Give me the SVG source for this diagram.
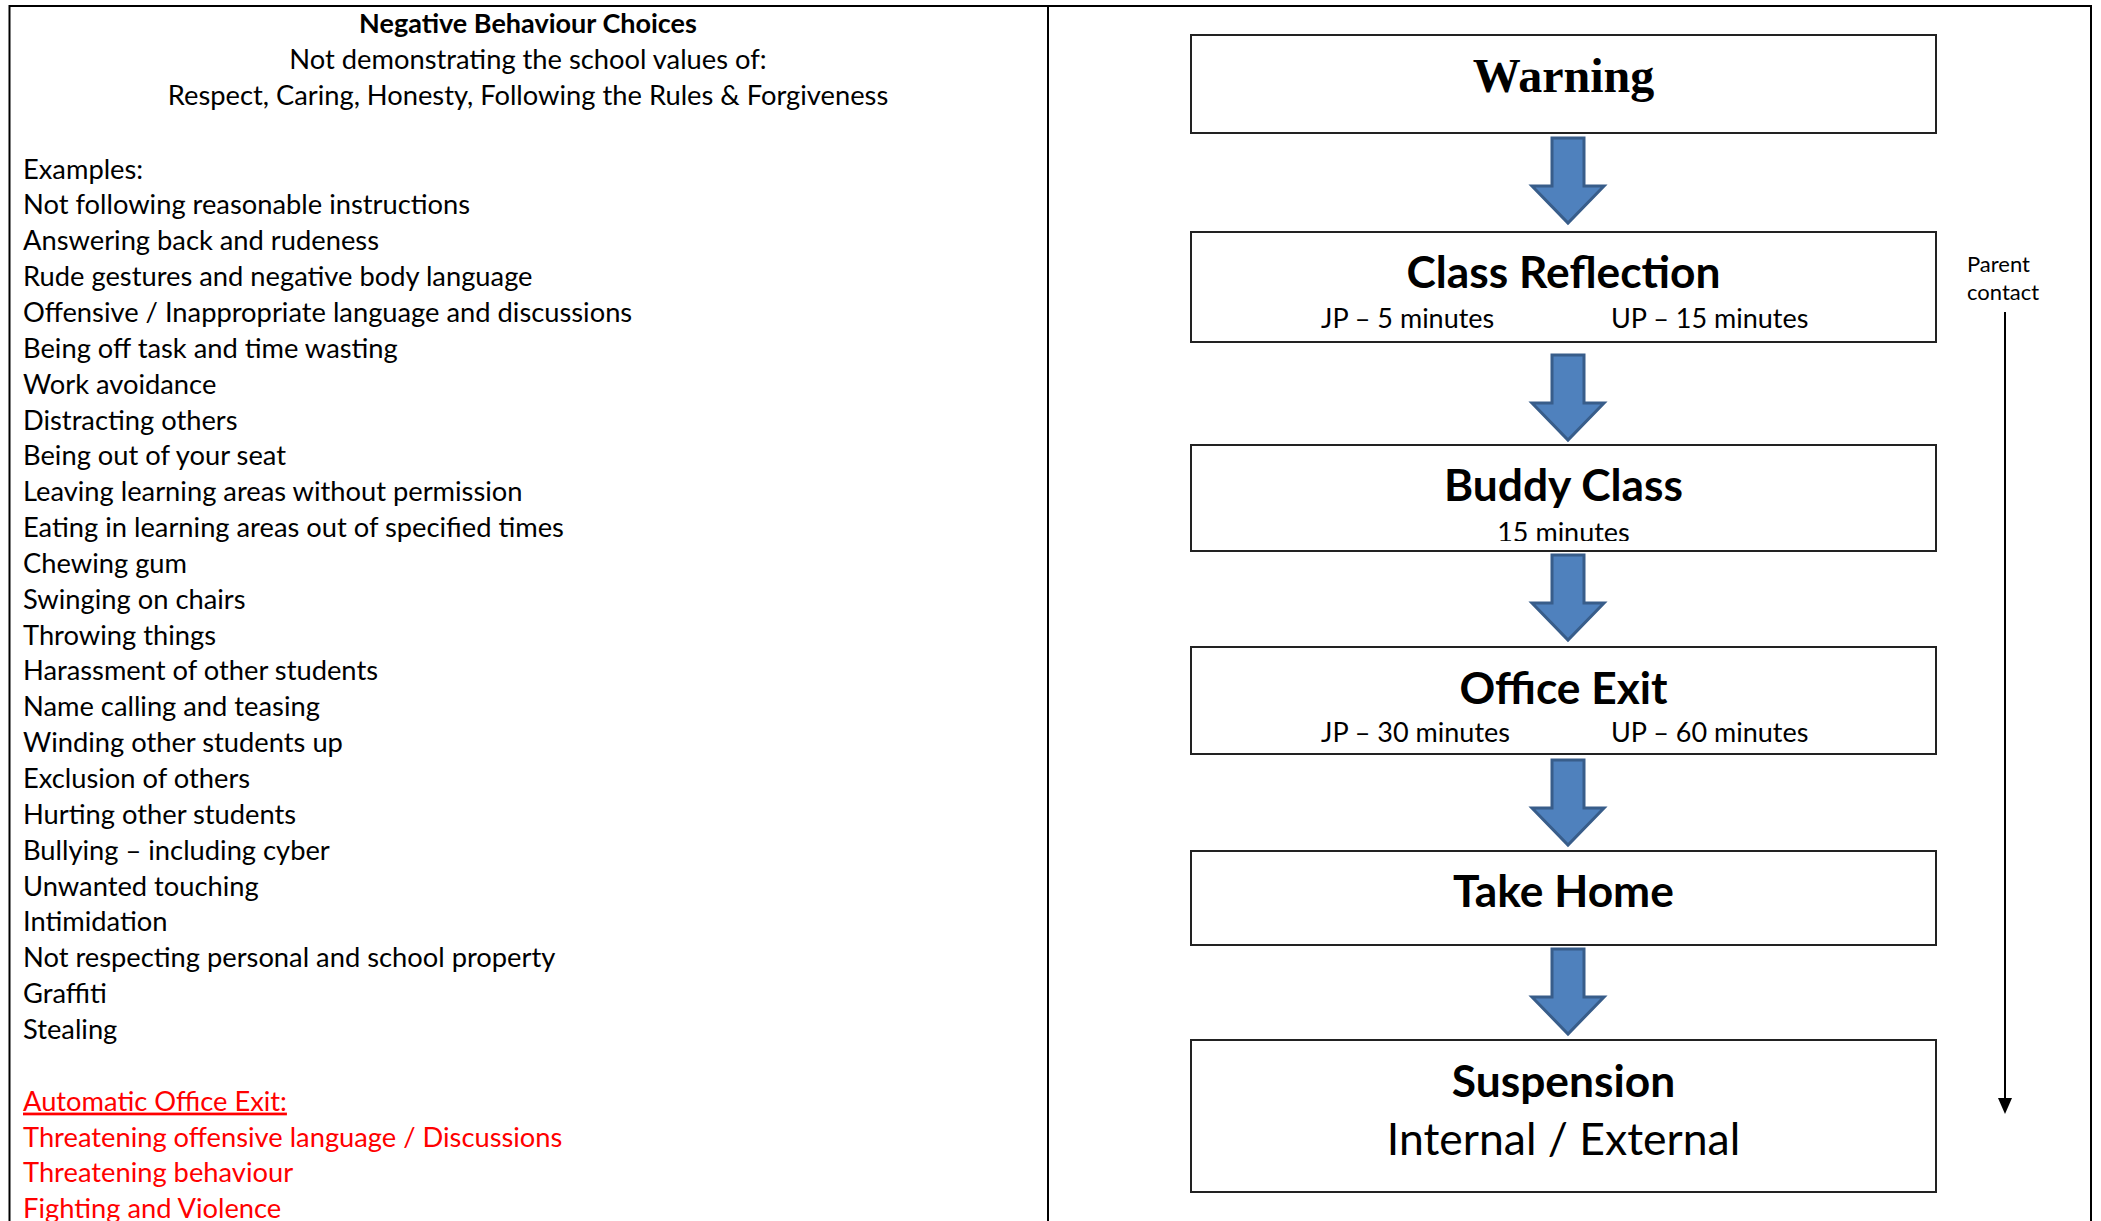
<svg xmlns="http://www.w3.org/2000/svg" width="2101" height="1221" viewBox="0 0 2101 1221">
<style>
.t{font-family:Lato,"Open Sans","Liberation Sans",sans-serif;font-size:27.3px;fill:#000}
.tb{font-family:Lato,"Open Sans","Liberation Sans",sans-serif;font-size:27px;font-weight:700;fill:#000}
.red{fill:#FF0000}
.hd{font-family:Lato,"Open Sans","Liberation Sans",sans-serif;font-size:44.3px;font-weight:700;fill:#000;text-anchor:middle}
.sub{font-family:Lato,"Open Sans","Liberation Sans",sans-serif;font-size:27px;fill:#000}
.box{fill:#fff;stroke:#222;stroke-width:2}
.frame{stroke:#000;stroke-width:2;fill:none}
.blk{fill:#4F81BD;stroke:#385D8A;stroke-width:3}
</style>
<defs>
<path id="barrow" d="M-16,0 H16 V48 H36 L0,85 L-36,48 H-16 Z"/>
<clipPath id="clipBuddy"><rect x="1191" y="445" width="745" height="96"/></clipPath>
</defs>
<rect width="2101" height="1221" fill="#fff"/>
<g id="frame">
<line class="frame" x1="9" y1="6" x2="2092" y2="6"/>
<line class="frame" x1="9.5" y1="5" x2="9.5" y2="1221"/>
<line class="frame" x1="1048" y1="5" x2="1048" y2="1221"/>
<line class="frame" x1="2091" y1="5" x2="2091" y2="1221"/>
</g>
<g id="left-panel">
<text class="tb" x="528" y="33" text-anchor="middle">Negative Behaviour Choices</text>
<text class="t" x="528" y="69" text-anchor="middle">Not demonstrating the school values of:</text>
<text class="t" x="528" y="105" text-anchor="middle">Respect, Caring, Honesty, Following the Rules &amp; Forgiveness</text>
<text class="t" x="23" y="178.5">Examples:</text>
<text class="t" x="23" y="214.4">Not following reasonable instructions</text>
<text class="t" x="23" y="250.2">Answering back and rudeness</text>
<text class="t" x="23" y="286.1">Rude gestures and negative body language</text>
<text class="t" x="23" y="321.9">Offensive / Inappropriate language and discussions</text>
<text class="t" x="23" y="357.8">Being off task and time wasting</text>
<text class="t" x="23" y="393.6">Work avoidance</text>
<text class="t" x="23" y="429.5">Distracting others</text>
<text class="t" x="23" y="465.3">Being out of your seat</text>
<text class="t" x="23" y="501.2">Leaving learning areas without permission</text>
<text class="t" x="23" y="537">Eating in learning areas out of specified times</text>
<text class="t" x="23" y="572.9">Chewing gum</text>
<text class="t" x="23" y="608.7">Swinging on chairs</text>
<text class="t" x="23" y="644.6">Throwing things</text>
<text class="t" x="23" y="680.4">Harassment of other students</text>
<text class="t" x="23" y="716.3">Name calling and teasing</text>
<text class="t" x="23" y="752.1">Winding other students up</text>
<text class="t" x="23" y="788">Exclusion of others</text>
<text class="t" x="23" y="823.8">Hurting other students</text>
<text class="t" x="23" y="859.7">Bullying – including cyber</text>
<text class="t" x="23" y="895.5">Unwanted touching</text>
<text class="t" x="23" y="931.4">Intimidation</text>
<text class="t" x="23" y="967.2">Not respecting personal and school property</text>
<text class="t" x="23" y="1003.1">Graffiti</text>
<text class="t" x="23" y="1038.9">Stealing</text>
<text class="t red" x="23" y="1110.6" text-decoration="underline">Automatic Office Exit:</text>
<text class="t red" x="23" y="1146.5">Threatening offensive language / Discussions</text>
<text class="t red" x="23" y="1182.3">Threatening behaviour</text>
<text class="t red" x="23" y="1218.2">Fighting and Violence</text>
</g>
<g id="connectors">
<use href="#barrow" class="blk" transform="translate(1568,138)"/>
<use href="#barrow" class="blk" transform="translate(1568,355)"/>
<use href="#barrow" class="blk" transform="translate(1568,555)"/>
<use href="#barrow" class="blk" transform="translate(1568,760)"/>
<use href="#barrow" class="blk" transform="translate(1568,949)"/>
<line x1="2005" y1="312" x2="2005" y2="1100" stroke="#000" stroke-width="2"/>
<path d="M1998,1098 L2012,1098 L2005,1114 Z" fill="#000"/>
</g>
<g id="node-warning">
<rect class="box" x="1191" y="35" width="745" height="98"/>
<text x="1563.5" y="92" text-anchor="middle" font-family="'Liberation Serif','Times New Roman',serif" font-weight="700" font-size="48">Warning</text>
</g>
<g id="node-class-reflection">
<rect class="box" x="1191" y="232" width="745" height="110"/>
<text class="hd" x="1563.5" y="288">Class Reflection</text>
<text class="sub" x="1321" y="328">JP – 5 minutes</text>
<text class="sub" x="1611" y="328">UP – 15 minutes</text>
</g>
<g id="node-buddy-class">
<rect class="box" x="1191" y="445" width="745" height="106"/>
<text class="hd" x="1563.5" y="501">Buddy Class</text>
<text class="sub" x="1563.5" y="542" text-anchor="middle" clip-path="url(#clipBuddy)">15 minutes</text>
</g>
<g id="node-office-exit">
<rect class="box" x="1191" y="647" width="745" height="107"/>
<text class="hd" x="1563.5" y="704">Office Exit</text>
<text class="sub" x="1321" y="742">JP – 30 minutes</text>
<text class="sub" x="1611" y="742">UP – 60 minutes</text>
</g>
<g id="node-take-home">
<rect class="box" x="1191" y="851" width="745" height="94"/>
<text class="hd" x="1563.5" y="907">Take Home</text>
</g>
<g id="node-suspension">
<rect class="box" x="1191" y="1040" width="745" height="152"/>
<text class="hd" x="1563.5" y="1097">Suspension</text>
<text x="1563.5" y="1155" text-anchor="middle" font-family="Lato,'Open Sans','Liberation Sans',sans-serif" font-size="44.5">Internal / External</text>
</g>
<g id="parent-contact">
<text x="1967" y="272" font-family="Lato,'Open Sans','Liberation Sans',sans-serif" font-size="22">Parent</text>
<text x="1967" y="300" font-family="Lato,'Open Sans','Liberation Sans',sans-serif" font-size="22">contact</text>
</g>
</svg>
